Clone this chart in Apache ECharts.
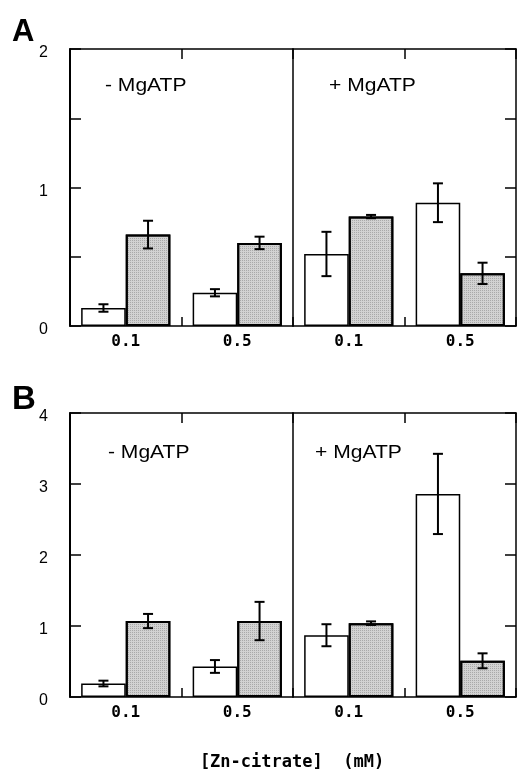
<!DOCTYPE html>
<html>
<head>
<meta charset="utf-8">
<script src="https://cdn.jsdelivr.net/npm/echarts@6/dist/echarts.min.js"></script>
<style>
html,body{margin:0;padding:0;background:#fff;}
#chart{width:518px;height:774px;}
</style>
</head>
<body>
<div id="chart"></div>
<script>
// ---- data ----
const categories = ['0.1', '0.5'];
const yTicksA = [0, 1, 2];
const yTicksB = [0, 1, 2, 3, 4];

// Panel A
const A_minus_open = [0.13, 0.24];
const A_minus_open_err = [0.027, 0.026];
const A_minus_gray = [0.66, 0.60];
const A_minus_gray_err = [0.10, 0.045];
const A_plus_open = [0.52, 0.89];
const A_plus_open_err = [0.16, 0.14];
const A_plus_gray = [0.79, 0.38];
const A_plus_gray_err = [0.012, 0.077];

// Panel B
const B_minus_open = [0.19, 0.43];
const B_minus_open_err = [0.04, 0.09];
const B_minus_gray = [1.07, 1.07];
const B_minus_gray_err = [0.10, 0.27];
const B_plus_open = [0.87, 2.86];
const B_plus_open_err = [0.155, 0.565];
const B_plus_gray = [1.04, 0.51];
const B_plus_gray_err = [0.025, 0.105];

// ---- chart ----
const chart = echarts.init(document.getElementById('chart'), null, {renderer: 'canvas'});

const LEFT = 70, HALF = 223;
const panels = [
  {top: 49, height: 277, max: 2, interval: 0.5, ticks: yTicksA,
   minusOpen: A_minus_open, minusOpenErr: A_minus_open_err, minusGray: A_minus_gray, minusGrayErr: A_minus_gray_err,
   plusOpen: A_plus_open, plusOpenErr: A_plus_open_err, plusGray: A_plus_gray, plusGrayErr: A_plus_gray_err},
  {top: 413, height: 284, max: 4, interval: 1, ticks: yTicksB,
   minusOpen: B_minus_open, minusOpenErr: B_minus_open_err, minusGray: B_minus_gray, minusGrayErr: B_minus_gray_err,
   plusOpen: B_plus_open, plusOpenErr: B_plus_open_err, plusGray: B_plus_gray, plusGrayErr: B_plus_gray_err}
];

const grids = [], xAxes = [], yAxes = [], series = [];
const lineStyle = {color: '#000', width: 1.5};
const grayDecal = {
  symbol: 'rect', symbolSize: 1,
  dashArrayX: [1, 1], dashArrayY: [1, 1],
  color: 'rgba(120,120,120,0.45)'
};

function errRender(sign) {
  return function (params, api) {
    const ci = api.value(0), m = api.value(1), e = api.value(2);
    const band = api.size([1, 0])[0];
    const c = api.coord([ci, m]);
    const x = c[0] + sign * band * 0.2;
    const yT = api.coord([ci, m + e])[1];
    const yB = api.coord([ci, m - e])[1];
    const hw = 5;
    const st = {stroke: '#000', lineWidth: 2};
    return {type: 'group', children: [
      {type: 'line', shape: {x1: x, y1: yT, x2: x, y2: yB}, style: st},
      {type: 'line', shape: {x1: x - hw, y1: yT, x2: x + hw, y2: yT}, style: st},
      {type: 'line', shape: {x1: x - hw, y1: yB, x2: x + hw, y2: yB}, style: st}
    ]};
  };
}

function errData(means, errs) {
  return means.map((m, i) => [i, m, errs[i]]);
}

panels.forEach((p, pi) => {
  ['L', 'R'].forEach((side, si) => {
    const g = grids.length;
    grids.push({left: LEFT + si * HALF, top: p.top, width: HALF, height: p.height, containLabel: false});
    // bottom category axis
    const xb = xAxes.length;
    xAxes.push({
      type: 'category', gridIndex: g, position: 'bottom', data: categories,
      axisLine: {show: true, onZero: false, lineStyle: lineStyle},
      axisTick: {show: true, inside: true, length: 9, lineStyle: lineStyle},
      axisLabel: {show: true, margin: 8, color: '#000', fontFamily: 'DejaVu Sans Mono', fontWeight: 'bold', fontSize: 16},
      splitLine: {show: false}
    });
    // top axis (frame)
    xAxes.push({
      type: 'category', gridIndex: g, position: 'top', data: categories,
      axisLine: {show: true, onZero: false, lineStyle: lineStyle},
      axisTick: {show: true, inside: true, length: 10, lineStyle: lineStyle},
      axisLabel: {show: false}, splitLine: {show: false}
    });
    let yMain;
    if (si === 0) {
      yMain = yAxes.length;
      yAxes.push({
        type: 'value', gridIndex: g, position: 'left', min: 0, max: p.max, interval: p.interval,
        axisLine: {show: true, onZero: false, lineStyle: {color: '#000', width: 2}},
        axisTick: {show: true, inside: true, length: 11, lineStyle: lineStyle},
        axisLabel: {show: true, margin: 22, color: '#000', fontFamily: 'Liberation Sans', fontSize: 16,
          verticalAlign: 'top', lineHeight: 8,
          formatter: v => (p.ticks.indexOf(v) >= 0 ? String(v) : '')},
        splitLine: {show: false}
      });
    } else {
      yMain = yAxes.length;
      yAxes.push({
        type: 'value', gridIndex: g, position: 'left', min: 0, max: p.max, interval: p.interval,
        axisLine: {show: true, onZero: false, lineStyle: lineStyle},
        axisTick: {show: false}, axisLabel: {show: false}, splitLine: {show: false}
      });
      yAxes.push({
        type: 'value', gridIndex: g, position: 'right', min: 0, max: p.max, interval: p.interval,
        axisLine: {show: true, onZero: false, lineStyle: lineStyle},
        axisTick: {show: true, inside: true, length: 11, lineStyle: lineStyle},
        axisLabel: {show: false}, splitLine: {show: false}
      });
    }
    const open = si === 0 ? p.minusOpen : p.plusOpen;
    const openErr = si === 0 ? p.minusOpenErr : p.plusOpenErr;
    const gray = si === 0 ? p.minusGray : p.plusGray;
    const grayErr = si === 0 ? p.minusGrayErr : p.plusGrayErr;
    series.push({
      type: 'bar', xAxisIndex: xb, yAxisIndex: yMain, data: open,
      barWidth: '40%', barGap: '0%',
      itemStyle: {color: '#fff', borderColor: '#000', borderWidth: 1.5}, z: 2
    });
    series.push({
      type: 'bar', xAxisIndex: xb, yAxisIndex: yMain, data: gray,
      barWidth: '40%', barGap: '0%',
      itemStyle: {color: '#d2d2d2', borderColor: '#000', borderWidth: 2, decal: grayDecal}, z: 2
    });
    series.push({
      type: 'custom', xAxisIndex: xb, yAxisIndex: yMain, data: errData(open, openErr),
      encode: {x: 0, y: 1}, renderItem: errRender(-1), z: 5
    });
    series.push({
      type: 'custom', xAxisIndex: xb, yAxisIndex: yMain, data: errData(gray, grayErr),
      encode: {x: 0, y: 1}, renderItem: errRender(1), z: 5
    });
  });
});

const txt = (text, x, y, opts) => ({
  type: 'text', x: x, y: y, z: 100,
  style: Object.assign({text: text, fill: '#000', fontFamily: 'Liberation Sans', fontSize: 18,
    verticalAlign: 'middle', textAlign: 'left'}, opts || {})
});

const graphics = [
  txt('A', 12, 32, {fontSize: 31, fontWeight: 'bold'}),
  txt('B', 12, 400, {fontSize: 33, fontWeight: 'bold'}),
  Object.assign(txt('- MgATP', 105, 86), {scaleX: 1.17}),
  Object.assign(txt('+ MgATP', 329, 86), {scaleX: 1.17}),
  Object.assign(txt('- MgATP', 108, 453), {scaleX: 1.17}),
  Object.assign(txt('+ MgATP', 315, 453), {scaleX: 1.17}),
  txt('[Zn-citrate]  (mM)', 292, 763, {fontFamily: 'DejaVu Sans Mono', fontWeight: 'bold', fontSize: 17, textAlign: 'center'})
];

chart.setOption({
  animation: false,
  backgroundColor: '#fff',
  grid: grids, xAxis: xAxes, yAxis: yAxes, series: series,
  graphic: graphics
});
</script>
</body>
</html>
